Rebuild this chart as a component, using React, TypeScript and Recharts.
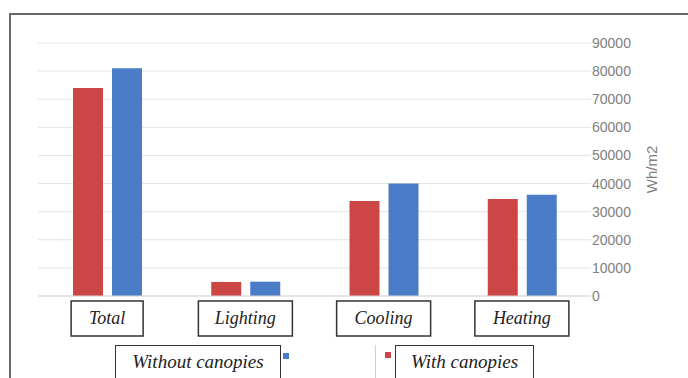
import { BarChart, Bar, XAxis, YAxis, CartesianGrid, Legend } from "recharts"

const categories = ["Total", "Lighting", "Cooling", "Heating"]
const withCanopies = [74000, 5000, 33800, 34500]
const withoutCanopies = [81000, 5100, 40000, 36000]
const yTicks = [0, 10000, 20000, 30000, 40000, 50000, 60000, 70000, 80000, 90000]
const seriesNames = { with: "With canopies", without: "Without canopies" }

const RED = "#CC4646"
const BLUE = "#4A7CC8"

const data = categories.map((name, i) => ({
  name,
  with: withCanopies[i],
  without: withoutCanopies[i],
}))

const boxWidth: Record<string, number> = { Total: 72 }

function CategoryTick(props: any) {
  const { x, y, payload } = props
  const w = boxWidth[payload.value] ?? 94
  return (
    <g>
      <rect x={x - w / 2} y={y + 5} width={w} height={35} fill="#fff" stroke="#333" strokeWidth={1.5} />
      <text
        x={x}
        y={y + 28}
        textAnchor="middle"
        fontFamily="'Liberation Serif', serif"
        fontStyle="italic"
        fontSize={18}
        fill="#222"
      >
        {payload.value}
      </text>
    </g>
  )
}

function LegendBoxes() {
  const label = {
    position: "absolute" as const,
    top: 345,
    height: 40,
    border: "1.5px solid #333",
    background: "#fff",
    fontFamily: "'Liberation Serif', serif",
    fontStyle: "italic",
    fontSize: 19,
    color: "#222",
    lineHeight: "32px",
    textAlign: "center" as const,
    boxSizing: "border-box" as const,
  }
  return (
    <div style={{ position: "relative", width: 0, height: 0 }}>
      <div style={{ ...label, left: 115, width: 166 }}>{seriesNames.without}</div>
      <div style={{ position: "absolute", left: 283, top: 353, width: 6, height: 6, background: BLUE }} />
      <div style={{ position: "absolute", left: 375, top: 345, width: 1, height: 33, background: "#d0d0d0" }} />
      <div style={{ position: "absolute", left: 385, top: 352, width: 6, height: 6, background: RED }} />
      <div style={{ ...label, left: 395, width: 139 }}>{seriesNames.with}</div>
    </div>
  )
}

export default function App() {
  return (
    <div style={{ position: "absolute", left: 0, top: 0, width: 688, height: 378, overflow: "hidden", background: "#fff" }}>
      <div
        style={{
          position: "absolute",
          left: 9,
          top: 13,
          width: 720,
          height: 420,
          border: "2px solid #6a6a6a",
        }}
      />
      <BarChart
        width={688}
        height={378}
        data={data}
        margin={{ top: 43, right: 27, bottom: 0, left: 38 }}
        barSize={30}
        barGap={9}
      >
        <CartesianGrid vertical={false} stroke="#e4e4e4" />
        <XAxis
          dataKey="name"
          axisLine={{ stroke: "#d9d9d9" }}
          tickLine={false}
          tickSize={0}
          tickMargin={0}
          height={82}
          tick={<CategoryTick />}
          interval={0}
        />
        <YAxis
          orientation="right"
          domain={[0, 90000]}
          ticks={yTicks}
          axisLine={false}
          tickLine={false}
          tickSize={0}
          tickMargin={1}
          width={70}
          tick={{ fill: "#808080", fontSize: 14, fontFamily: "'Liberation Sans', sans-serif" }}
          label={{
            value: "Wh/m2",
            angle: -90,
            position: "center",
            dx: 26,
            fill: "#808080",
            fontSize: 15,
            fontFamily: "'Liberation Sans', sans-serif",
          }}
        />
        <Legend
          content={() => <LegendBoxes />}
          wrapperStyle={{ position: "absolute", left: 0, top: 0, width: 0, height: 0 }}
        />
        <Bar dataKey="with" name={seriesNames.with} fill={RED} isAnimationActive={false} />
        <Bar dataKey="without" name={seriesNames.without} fill={BLUE} isAnimationActive={false} />
      </BarChart>
    </div>
  )
}
